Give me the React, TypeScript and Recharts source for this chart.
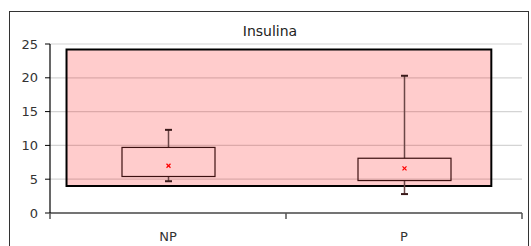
import React from 'react';
import { ComposedChart, Bar, XAxis, YAxis, CartesianGrid, ReferenceArea } from 'recharts';

const categories = ['NP', 'P'];
const positions = [0.5, 1.5];
const mins = [4.7, 2.8];
const q1s = [5.4, 4.8];
const q3s = [9.7, 8.1];
const maxs = [12.3, 20.3];
const means = [7.0, 6.6];
const yTicks = [0, 5, 10, 15, 20, 25];
const xTicks = [0, 0.5, 1, 1.5, 2];
const bandX = [0.07, 1.87];
const bandY = [4.0, 24.2];
const title = 'Insulina';

const data = categories.map((name, i) => ({
  name,
  pos: positions[i],
  min: mins[i],
  q1: q1s[i],
  q3: q3s[i],
  max: maxs[i],
  mean: means[i],
}));

const FONT = '"DejaVu Sans", sans-serif';

const BoxShape = (props: any) => {
  const { x, y, width, height, payload } = props;
  const p = payload;
  const ppu = height / (p.q3 - p.q1);
  const cx = x + width / 2;
  const yMax = y - (p.max - p.q3) * ppu;
  const yMin = y + height + (p.q1 - p.min) * ppu;
  const yMean = y + (p.q3 - p.mean) * ppu;
  const cap = 3.5;
  const m = 2;
  return (
    <g>
      <line x1={cx} x2={cx} y1={yMax} y2={y} stroke="#6a4646" strokeWidth={1.5} />
      <line x1={cx} x2={cx} y1={y + height} y2={yMin} stroke="#6a4646" strokeWidth={1.5} />
      <line x1={cx - cap} x2={cx + cap} y1={yMax} y2={yMax} stroke="#3a1a1a" strokeWidth={2} />
      <line x1={cx - cap} x2={cx + cap} y1={yMin} y2={yMin} stroke="#3a1a1a" strokeWidth={2} />
      <rect x={x} y={y} width={width} height={height} fill="none" stroke="#3c1010" strokeWidth={1.2} />
      <line x1={cx - m} x2={cx + m} y1={yMean - m} y2={yMean + m} stroke="#ff0000" strokeWidth={1.3} />
      <line x1={cx - m} x2={cx + m} y1={yMean + m} y2={yMean - m} stroke="#ff0000" strokeWidth={1.3} />
    </g>
  );
};

const XTick = (props: any) => {
  const { x, y, payload } = props;
  const v = payload.value;
  const idx = positions.indexOf(v);
  if (idx >= 0) {
    return (
      <text x={x} y={y + 20} textAnchor="middle" fontFamily={FONT} fontSize={13} fill="#333">
        {categories[idx]}
      </text>
    );
  }
  return <line x1={x} x2={x} y1={y - 8} y2={y - 2} stroke="#555" strokeWidth={1.5} />;
};

export default function App() {
  return (
    <div style={{ position: 'absolute', left: 0, top: 0, width: 531, height: 246, background: '#fff', overflow: 'hidden' }}>
      <div
        style={{
          position: 'absolute',
          left: 9,
          top: 11,
          width: 520,
          height: 260,
          border: '1.5px solid #333',
          boxSizing: 'border-box',
        }}
      />
      <div
        style={{
          position: 'absolute',
          left: 0,
          top: 23,
          width: 540,
          textAlign: 'center',
          fontFamily: FONT,
          fontSize: 14,
          color: '#222',
        }}
      >
        {title}
      </div>
      <div style={{ position: 'absolute', left: 0, top: 0 }}>
        <ComposedChart width={531} height={246} data={data} margin={{ top: 44, right: 9, left: 10, bottom: 3 }}>
          <CartesianGrid vertical={false} stroke="#d4d4d4" strokeWidth={1.2} />
          <XAxis
            dataKey="pos"
            type="number"
            domain={[0, 2]}
            ticks={xTicks}
            interval={0}
            tickLine={false}
            tick={<XTick />}
            axisLine={{ stroke: '#000', strokeWidth: 1.2 }}
            height={30}
          />
          <YAxis
            type="number"
            domain={[0, 25]}
            ticks={yTicks}
            interval={0}
            width={40}
            tickSize={5}
            tickMargin={7}
            tickLine={{ stroke: '#000' }}
            axisLine={{ stroke: '#000', strokeWidth: 1.2 }}
            tick={{ fontFamily: FONT, fontSize: 13, fill: '#333' }}
          />
          <ReferenceArea
            x1={bandX[0]}
            x2={bandX[1]}
            y1={bandY[0]}
            y2={bandY[1]}
            fill="#ff0000"
            fillOpacity={0.2}
            stroke="#000"
            strokeWidth={2}
            strokeOpacity={1}
          />
          <Bar
            dataKey={(d: any) => [d.q1, d.q3]}
            barSize={93}
            shape={<BoxShape />}
            isAnimationActive={false}
          />
        </ComposedChart>
      </div>
    </div>
  );
}
